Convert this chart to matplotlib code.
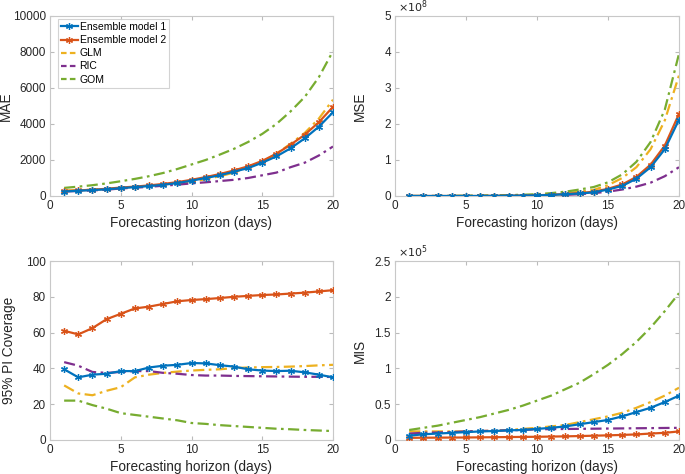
import numpy as np
import matplotlib
matplotlib.use('Agg')
import matplotlib.pyplot as plt

plt.rcParams['font.family'] = ['Liberation Sans', 'DejaVu Sans']

days = np.arange(1, 21)
names = ['Ensemble model 1', 'Ensemble model 2', 'GLM', 'RIC', 'GOM']

# MAE
mae_ens1 = [250, 290, 330, 370, 440, 490, 550, 620, 720, 850, 1000, 1150, 1350, 1550, 1850, 2200, 2650, 3200, 3850, 4650]
mae_ens2 = [270, 310, 350, 400, 470, 520, 590, 670, 770, 900, 1050, 1220, 1420, 1650, 1950, 2350, 2850, 3400, 4100, 4950]
mae_glm = [300, 320, 350, 390, 440, 490, 550, 620, 700, 800, 930, 1100, 1300, 1580, 1900, 2350, 2900, 3500, 4300, 5350]
mae_ric = [250, 280, 310, 350, 420, 460, 510, 570, 630, 700, 760, 830, 900, 1000, 1150, 1300, 1600, 1850, 2250, 2750]
mae_gom = [450, 520, 600, 700, 820, 950, 1100, 1280, 1500, 1750, 2000, 2300, 2620, 3000, 3450, 4000, 4700, 5500, 6600, 8050]

# MSE (x1e8)
mse_ens1 = [0.0, 0.0, 0.0, 0.0, 0.0, 0.0, 0.005, 0.008, 0.012, 0.018, 0.03, 0.05, 0.07, 0.1, 0.18, 0.28, 0.48, 0.8, 1.3, 2.12]
mse_ens2 = [0.0, 0.0, 0.0, 0.0, 0.0, 0.0, 0.006, 0.009, 0.013, 0.02, 0.035, 0.055, 0.08, 0.12, 0.2, 0.32, 0.53, 0.87, 1.4, 2.28]
mse_glm = [0.0, 0.0, 0.0, 0.0, 0.0, 0.005, 0.008, 0.012, 0.02, 0.03, 0.05, 0.08, 0.12, 0.17, 0.3, 0.5, 0.8, 1.3, 2.1, 3.35]
mse_ric = [0.0, 0.0, 0.0, 0.0, 0.0, 0.0, 0.003, 0.005, 0.008, 0.012, 0.02, 0.03, 0.05, 0.08, 0.12, 0.18, 0.26, 0.37, 0.55, 0.8]
mse_gom = [0.0, 0.0, 0.0, 0.005, 0.008, 0.012, 0.018, 0.025, 0.035, 0.05, 0.08, 0.12, 0.18, 0.25, 0.38, 0.6, 0.95, 1.5, 2.4, 3.95]

# 95% PI coverage
cov_ens1 = [39.5, 35, 36.5, 37, 38.5, 38.5, 40.5, 41.5, 42, 43, 42.8, 41.8, 41, 39.5, 38.8, 38.5, 38.7, 37.8, 36.5, 35]
cov_ens2 = [61, 59, 62.5, 67.5, 70.5, 73.5, 74.5, 76, 77.5, 78.2, 78.7, 79.3, 80, 80.5, 81, 81.3, 81.8, 82.3, 83, 83.7]
cov_glm = [30.5, 26, 25, 27.5, 29.5, 35, 36.5, 37.5, 38.2, 38.8, 39.2, 39.5, 40.2, 40.5, 40.7, 40.8, 41, 41.3, 41.7, 42]
cov_ric = [43.5, 41.5, 38, 37.5, 38, 38.5, 38.5, 37.5, 37, 36.3, 36, 36, 35.8, 35.7, 35.6, 35.5, 35.4, 35.3, 35.3, 35.2]
cov_gom = [22, 22, 19.5, 17.5, 15, 14, 13, 12, 11, 9.5, 9, 8.3, 7.8, 7.3, 6.8, 6.3, 6, 5.6, 5.3, 5]

# MIS (x1e5)
mis_ens1 = [0.06, 0.08, 0.09, 0.1, 0.11, 0.12, 0.125, 0.135, 0.14, 0.155, 0.17, 0.19, 0.22, 0.25, 0.28, 0.33, 0.39, 0.45, 0.53, 0.62]
mis_ens2 = [0.03, 0.032, 0.033, 0.034, 0.035, 0.037, 0.039, 0.041, 0.043, 0.045, 0.048, 0.051, 0.055, 0.06, 0.065, 0.071, 0.078, 0.09, 0.1, 0.12]
mis_glm = [0.12, 0.12, 0.12, 0.12, 0.12, 0.125, 0.13, 0.14, 0.155, 0.17, 0.19, 0.21, 0.25, 0.29, 0.33, 0.38, 0.45, 0.53, 0.62, 0.73]
mis_ric = [0.09, 0.1, 0.105, 0.11, 0.12, 0.125, 0.13, 0.135, 0.14, 0.15, 0.152, 0.154, 0.156, 0.158, 0.16, 0.162, 0.164, 0.166, 0.168, 0.17]
mis_gom = [0.14, 0.17, 0.2, 0.24, 0.28, 0.32, 0.37, 0.42, 0.48, 0.55, 0.62, 0.71, 0.8, 0.92, 1.05, 1.2, 1.37, 1.57, 1.8, 2.05]

colors = ['#0072BD', '#D95319', '#EDB120', '#7E2F8E', '#77AC30']
axcol = '#262626'
W, H = 685, 474

fig = plt.figure(figsize=(6.85, 4.74), dpi=100)


def make_ax(l, t, r, b):
    return fig.add_axes([l / W, 1 - b / H, (r - l) / W, (b - t) / H])


def draw(ax, series, ylabel, ylim, yticks, yticklabels, ylab_x, mult=None):
    for i, s in enumerate(series):
        if i < 2:
            ax.plot(days, s, color=colors[i], lw=1.6, marker=(6, 2, 0), ms=5,
                    markeredgewidth=0.9, label=names[i], zorder=5 - i)
        else:
            ax.plot(days, s, color=colors[i], lw=1.6, ls=(0, (5, 2, 1.2, 2)),
                    label=names[i], zorder=1)
    ax.set_xlim(0, 20)
    ax.set_ylim(*ylim)
    ax.set_xticks([0, 5, 10, 15, 20])
    ax.set_yticks(yticks)
    ax.set_yticklabels(yticklabels)
    ax.tick_params(direction='in', top=True, right=True, labelsize=8.5,
                   colors='#bbbbbb', labelcolor=axcol, length=3, pad=3)
    for sp in ax.spines.values():
        sp.set_color('#c8c8c8')
        sp.set_linewidth(0.8)
    ax.set_xlabel('Forecasting horizon (days)', fontsize=9.8, color=axcol, labelpad=3)
    ax.set_ylabel(ylabel, fontsize=9.8, color=axcol)
    ax.yaxis.set_label_coords(ylab_x, 0.5)
    if mult:
        ax.text(0.01, 1.005, r'$\times10^{%d}$' % mult, transform=ax.transAxes,
                fontsize=8, color=axcol, ha='left', va='bottom')


ax1 = make_ax(50, 16, 333, 196)
draw(ax1, [mae_ens1, mae_ens2, mae_glm, mae_ric, mae_gom], 'MAE', (0, 10000),
     [0, 2000, 4000, 6000, 8000, 10000], ['0', '2000', '4000', '6000', '8000', '10000'], -0.132)
leg = ax1.legend(loc='upper left', bbox_to_anchor=(0.02, 0.995), fontsize=7.5,
                 handlelength=1.6, handletextpad=0.2, labelspacing=0.3,
                 borderpad=0.3, frameon=True, fancybox=False, borderaxespad=0.2)
leg.get_frame().set_edgecolor('#c8c8c8')
leg.get_frame().set_linewidth(0.8)
for h in leg.get_lines()[2:]:
    h.set_linestyle((0, (2.5, 1.5)))

ax2 = make_ax(395, 16, 679, 196)
draw(ax2, [mse_ens1, mse_ens2, mse_glm, mse_ric, mse_gom], 'MSE', (0, 5),
     [0, 1, 2, 3, 4, 5], ['0', '1', '2', '3', '4', '5'], -0.1, mult=8)

ax3 = make_ax(50, 261, 333, 440)
draw(ax3, [cov_ens1, cov_ens2, cov_glm, cov_ric, cov_gom], '95% PI Coverage', (0, 100),
     [0, 20, 40, 60, 80, 100], ['0', '20', '40', '60', '80', '100'], -0.12)

ax4 = make_ax(395, 261, 679, 440)
draw(ax4, [mis_ens1, mis_ens2, mis_glm, mis_ric, mis_gom], 'MIS', (0, 2.5),
     [0, 0.5, 1, 1.5, 2, 2.5], ['0', '0.5', '1', '1.5', '2', '2.5'], -0.1, mult=5)

fig.savefig('out.png', dpi=100)
